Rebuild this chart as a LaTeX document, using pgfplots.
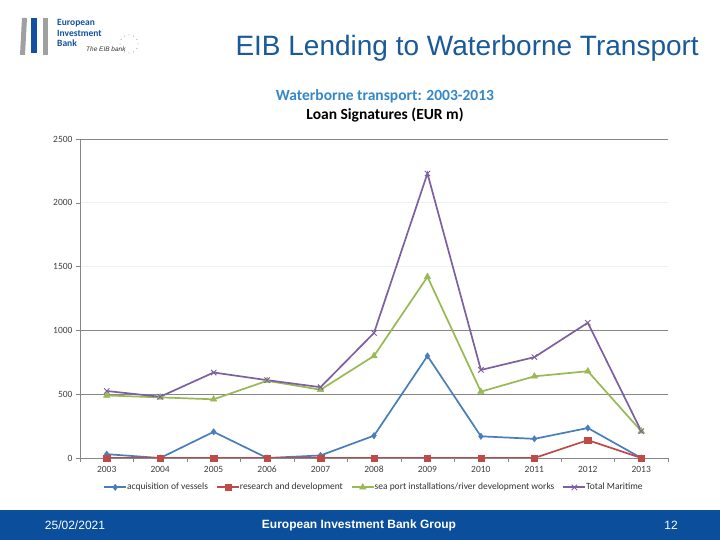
\documentclass[border=0pt]{standalone}
\usepackage{pgfplots}
\pgfplotsset{compat=1.18}
\usepackage{fontspec}
\setmainfont{Liberation Sans}
\newfontfamily\calibri{Carlito}

\definecolor{vessels}{RGB}{74,126,187}
\definecolor{research}{RGB}{190,75,72}
\definecolor{seaport}{RGB}{152,185,84}
\definecolor{total}{RGB}{125,96,160}
\definecolor{gridgrey}{RGB}{134,134,134}
\definecolor{titleblue}{RGB}{27,90,152}
\definecolor{charttitle}{RGB}{53,136,200}
\definecolor{footer}{RGB}{11,79,156}
\definecolor{logogrey}{RGB}{160,160,160}
\definecolor{logoblue}{RGB}{20,80,160}

\begin{document}
\begin{tikzpicture}
\useasboundingbox (0,0) rectangle (720pt,540pt);
\begin{scope}[x=1pt,y=1pt]
\fill[white] (0,0) rectangle (720,540);

% logo
\fill[logogrey] (20,485) -- (25,485) -- (27,522) -- (22,522) -- cycle;
\fill[logoblue] (31,487) rectangle (37,522);
\fill[logogrey] (43,485) rectangle (48,522);
\node[anchor=west, font=\calibri\bfseries\fontsize{9.5}{10.5}\selectfont, text=logoblue, align=left, inner sep=0pt]
  at (57,507) {European\\Investment\\Bank};
\node[anchor=west, font=\itshape\fontsize{6.5}{7}\selectfont, text=black!80, inner sep=0pt] at (86,491) {The EIB bank};
\foreach \a in {0,30,...,330} \fill[black!45] ({129+9*cos(\a)},{496+9*sin(\a)}) circle (0.5);

% slide title
\node[anchor=east, font=\fontsize{28}{32}\selectfont, text=titleblue, inner sep=0pt] at (699,492) {EIB Lending to Waterborne Transport};

% chart titles
\node[font=\calibri\bfseries\fontsize{15.5}{17}\selectfont, text=charttitle] at (385,444) {Waterborne transport: 2003-2013};
\node[font=\calibri\bfseries\fontsize{15.5}{17}\selectfont, text=black] at (385,425) {Loan Signatures (EUR m)};

% footer
\fill[footer] (0,0) rectangle (720,30);
\node[font=\fontsize{12}{14}\selectfont, text=white] at (75,15) {25/02/2021};
\node[font=\bfseries\fontsize{12}{14}\selectfont, text=white] at (359,15) {European Investment Bank Group};
\node[font=\fontsize{12}{14}\selectfont, text=white] at (671,15) {12};
\end{scope}

\begin{axis}[
    at={(80pt,82pt)}, anchor=south west,
    width=588pt, height=319pt, scale only axis,
    xmin=2002.5, xmax=2013.5,
    ymin=0, ymax=2500,
    axis x line*=bottom, axis y line*=left,
    axis line style={gridgrey},
    xtick={2003,...,2013},
    xticklabels={2003,2004,2005,2006,2007,2008,2009,2010,2011,2012,2013},
    major x tick style={draw=none},
    minor xtick={2002.5,2003.5,...,2013.5},
    minor x tick style={gridgrey},
    minor tick length=4pt,
    ytick={0,500,...,2500},
    yticklabels={0,500,1000,1500,2000,2500},
    y tick style={gridgrey},
    major tick length=4pt,
    tick align=outside,
    ymajorgrids, grid style={black!6, line width=0.6pt},
    extra y ticks={500,1000,2500},
    extra y tick labels={},
    extra y tick style={grid=major, grid style={gridgrey, line width=0.6pt}, major tick length=0pt},
    tick label style={font=\calibri\fontsize{9.5}{11}\selectfont, text=black!75},
    x tick label style={text height=7pt, text depth=1pt},
    every axis plot/.append style={line width=1.7pt},
    legend columns=4,
    legend style={at={(0.5,-0.092)}, anchor=center, draw=none, fill=none,
        font=\calibri\fontsize{9.5}{11}\selectfont, text=black!80,
        /tikz/every even column/.append style={column sep=6pt},
        /tikz/every odd column/.append style={column sep=-2pt}},
    legend image code/.code={
        \draw[mark repeat=2,mark phase=2] plot coordinates {(0pt,0pt) (11pt,0pt) (22pt,0pt)};
    },
]
\addplot[vessels, mark=diamond*, mark size=3.2pt, mark options={solid, line width=0.4pt}] coordinates {
    (2003,30) (2004,0) (2005,205) (2006,0) (2007,20) (2008,175)
    (2009,800) (2010,170) (2011,150) (2012,235) (2013,0)};
\addlegendentry{acquisition of vessels}
\addplot[research, mark=square*, mark size=3.2pt, mark options={solid, line width=0.4pt}] coordinates {
    (2003,0) (2004,0) (2005,0) (2006,0) (2007,0) (2008,0)
    (2009,0) (2010,0) (2011,0) (2012,140) (2013,0)};
\addlegendentry{research and development}
\addplot[seaport, mark=triangle*, mark size=3.8pt, mark options={solid, line width=0.4pt}] coordinates {
    (2003,490) (2004,475) (2005,460) (2006,605) (2007,535) (2008,800)
    (2009,1420) (2010,520) (2011,640) (2012,680) (2013,210)};
\addlegendentry{sea port installations/river development works}
\addplot[total, mark=x, mark size=3.8pt, mark options={solid, line width=0.9pt}] coordinates {
    (2003,525) (2004,480) (2005,670) (2006,610) (2007,555) (2008,980)
    (2009,2230) (2010,690) (2011,790) (2012,1060) (2013,210)};
\addlegendentry{Total Maritime}
\end{axis}
\end{tikzpicture}
\end{document}
